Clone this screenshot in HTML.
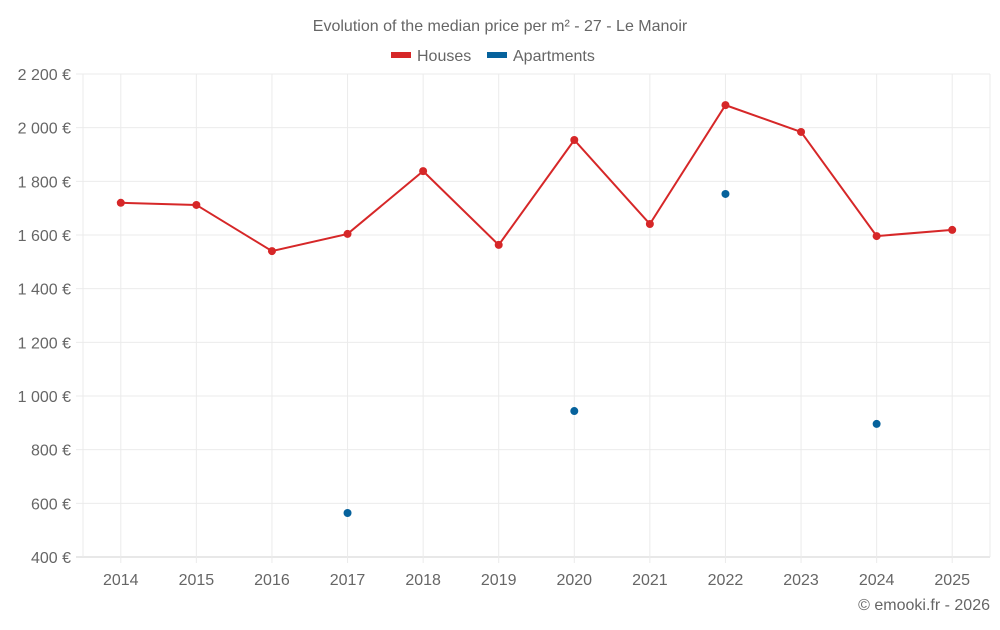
<!DOCTYPE html>
<html><head><meta charset="utf-8">
<style>
body{margin:0;background:#fff;font-family:"Liberation Sans",sans-serif;}
svg text{font-family:"Liberation Sans",sans-serif;fill:#666;}
</style></head>
<body>
<svg id="chart" width="1000" height="625">
<text x="500" y="31" text-anchor="middle" font-size="16">Evolution of the median price per m² - 27 - Le Manoir</text>
<g>
<g><rect x="391" y="52" width="20" height="6" fill="#d62728"/><text x="417" y="61" font-size="16">Houses</text></g>
<g><rect x="487" y="52" width="20" height="6" fill="#06629c"/><text x="513" y="61" font-size="16">Apartments</text></g>
</g>
<g id="grid"></g><g id="axes"></g><g id="marks"></g>
<text x="990" y="610" text-anchor="end" font-size="16">© emooki.fr - 2026</text>
</svg>
<script>
const years=[2014,2015,2016,2017,2018,2019,2020,2021,2022,2023,2024,2025];
const houses=[1720,1712,1540,1604,1838,1563,1954,1641,2084,1984,1596,1619];
const apartments=[null,null,null,564,null,null,944,null,1753,null,896,null];
const yTicks=[400,600,800,1000,1200,1400,1600,1800,2000,2200];
const L=83,R=990,T=74,B=557,yMin=400,yMax=2200;
const bw=(R-L)/years.length;
const xs=i=>L+bw*(i+0.5);
const ys=v=>B-(v-yMin)/(yMax-yMin)*(B-T);
const NS="http://www.w3.org/2000/svg";
function mk(tag,attrs,parent){const e=document.createElementNS(NS,tag);for(const k in attrs)e.setAttribute(k,attrs[k]);parent.appendChild(e);return e;}
const grid=document.getElementById('grid'),axes=document.getElementById('axes'),marks=document.getElementById('marks');
yTicks.forEach(v=>{
 const l=mk('line',{x1:L-7,x2:R,y1:ys(v),y2:ys(v),stroke:v===yMin?'#d0d0d0':'#ebebeb','stroke-width':1},grid);
 
 
 const t=mk('text',{x:71,y:ys(v)+6,'text-anchor':'end','font-size':16},axes);
 t.textContent=v.toLocaleString('fr-FR').replace(/\u202f|\u00a0/g,' ')+' €';
 
 
});
[L,R].forEach(x=>{
 const l=mk('line',{x1:x,x2:x,y1:T,y2:B,stroke:'#ebebeb'},grid);
 
 
});
years.forEach((y,i)=>{
 const g=mk('line',{x1:xs(i),x2:xs(i),y1:T,y2:B+6,stroke:'#ebebeb'},grid);
 
 
 const t=mk('text',{x:xs(i),y:585,'text-anchor':'middle','font-size':16},axes);
 t.textContent=y;
 
 
});
const p=mk('polyline',{points:houses.map((v,i)=>xs(i)+','+ys(v)).join(' '),fill:'none',stroke:'#d62728','stroke-width':2},marks);


houses.forEach((v,i)=>{
 const c=mk('circle',{cx:xs(i),cy:ys(v),r:4,fill:'#d62728'},marks);
 
 
});
apartments.forEach((v,i)=>{
 if(v==null)return;
 const c=mk('circle',{cx:xs(i),cy:ys(v),r:4,fill:'#06629c'},marks);
 
 
});
</script>
</body></html>
